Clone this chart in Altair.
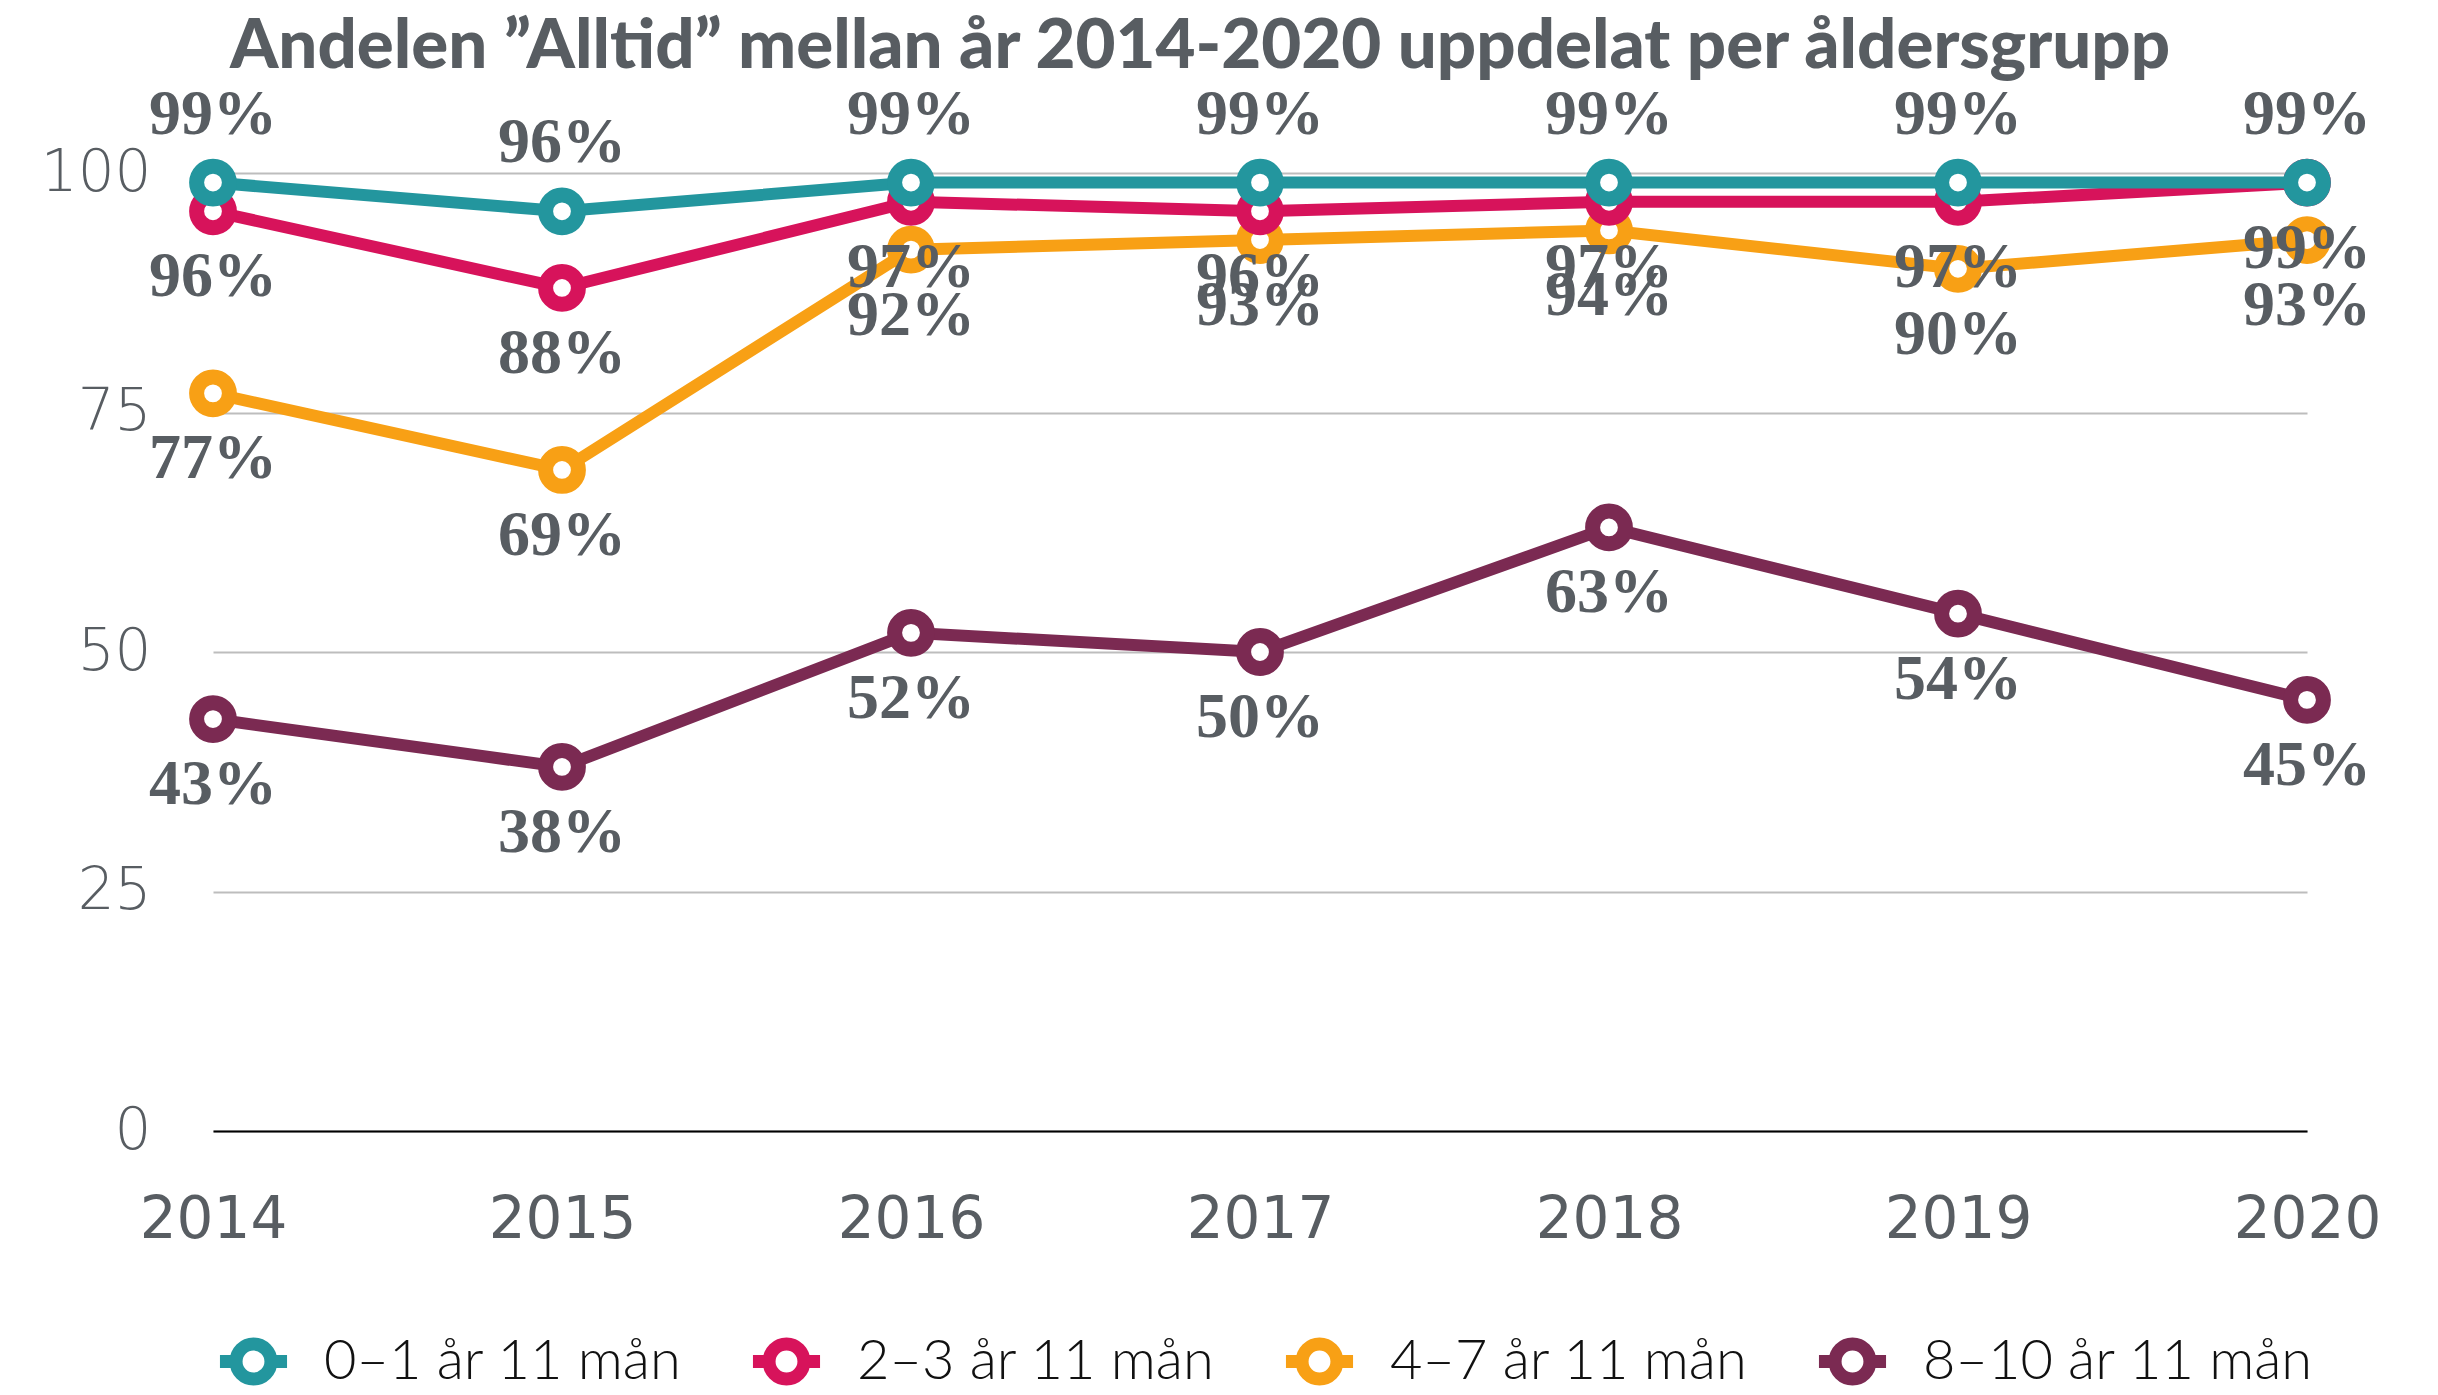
import altair as alt
import pandas as pd

years = [2014, 2015, 2016, 2017, 2018, 2019, 2020]
groups = ["0–1 år 11 mån", "2–3 år 11 mån", "4–7 år 11 mån", "8–10 år 11 mån"]
v_0_1 = [99, 96, 99, 99, 99, 99, 99]
v_2_3 = [96, 88, 97, 96, 97, 97, 99]
v_4_7 = [77, 69, 92, 93, 94, 90, 93]
v_8_10 = [43, 38, 52, 50, 63, 54, 45]
colors = ["#23969e", "#d7135b", "#f8a015", "#7b2a52"]
y_ticks = [0, 25, 50, 75, 100]

series = [v_0_1, v_2_3, v_4_7, v_8_10]
rows = []
for g, vals in zip(groups, series):
    for yr, v in zip(years, vals):
        rows.append({"year": yr, "value": v, "grupp": g, "label": f"{v}%"})
df = pd.DataFrame(rows)

TXT = "#585d62"
LEGEND_SYMBOL = ("M-1,0L-0.52,0M0.52,0L1,0"
                 "M-0.52,0A0.52,0.52,0,1,1,0.52,0A0.52,0.52,0,1,1,-0.52,0Z")

x_enc = alt.X(
    "year:Q",
    scale=alt.Scale(domain=[2014, 2020], nice=False, zero=False),
    axis=alt.Axis(values=years, format="d", title=None, grid=False, ticks=False,
                  labelPadding=60, labelFontSize=58, labelFont="DejaVu Sans",
                  labelColor=TXT, domainColor="black", domainWidth=2,
                  labelFlush=False, zindex=1),
)
y_enc = alt.Y(
    "value:Q",
    scale=alt.Scale(domain=[0, 100], nice=False),
    axis=alt.Axis(values=y_ticks, title=None, domain=False, ticks=False,
                  gridColor="#bdbdbd", gridWidth=2, labelFont="DejaVu Sans",
                  labelFontWeight=200, labelFontSize=58, labelColor=TXT,
                  labelPadding=62),
)
color_enc = alt.Color(
    "grupp:N",
    scale=alt.Scale(domain=groups, range=colors),
    legend=alt.Legend(orient="bottom", direction="horizontal", title=None,
                      labelFont="Lato", labelFontWeight=300, labelFontSize=56,
                      labelColor="#111111", labelLimit=800, symbolType=LEGEND_SYMBOL,
                      symbolSize=4500, symbolStrokeWidth=13, symbolFillColor="white",
                      columnPadding=44, labelOffset=30, offset=72),
)

base = alt.Chart(df)
layers = []
for g in reversed(groups):
    sub = base.transform_filter(alt.datum.grupp == g)
    layers.append(sub.mark_line(strokeWidth=12).encode(x=x_enc, y=y_enc, color=color_enc))
    layers.append(sub.mark_point(shape="circle", filled=False, fill="white", fillOpacity=1,
                                 opacity=1, size=1075, strokeWidth=15)
                  .encode(x=x_enc, y=y_enc, color=color_enc))
for g in reversed(groups):
    sub = base.transform_filter(alt.datum.grupp == g)
    dy = -68 if g == groups[0] else 66
    layers.append(sub.mark_text(font="Liberation Serif", fontWeight="bold", fontSize=64,
                                color=TXT, dy=dy, baseline="middle")
                  .encode(x=x_enc, y=y_enc, text="label:N"))

chart = alt.layer(*layers).properties(
    width=2094,
    height=958,
    title=alt.TitleParams("Andelen ”Alltid” mellan år 2014-2020 uppdelat per åldersgrupp",
                          font="Lato", fontWeight=900, fontSize=69, color=TXT,
                          anchor="middle", dx=-60, offset=1),
    padding={"left": 32, "top": 4, "right": 20, "bottom": 5},
).configure_view(stroke=None)

chart.save("out.html", embed_options={"renderer": "svg", "actions": False})
